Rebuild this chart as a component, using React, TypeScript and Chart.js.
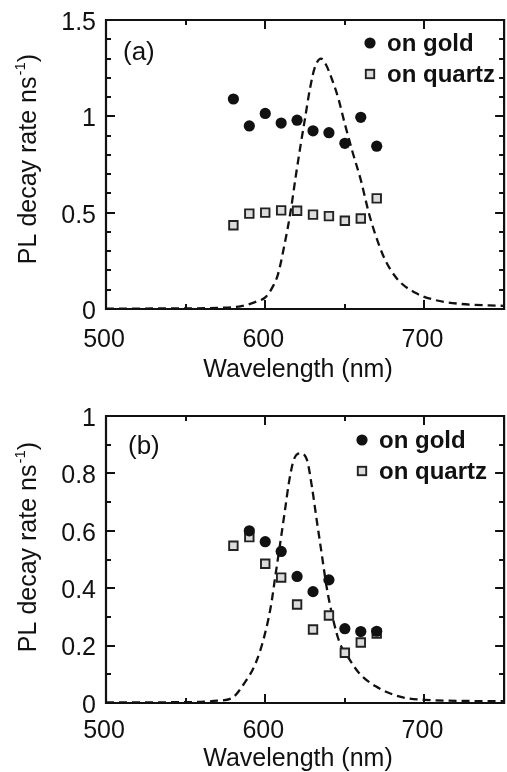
import React, { useEffect, useRef } from 'react';
import { Chart, registerables } from 'chart.js';

Chart.register(...registerables);

// ---------- Panel (a) data ----------
const wavelengthsA = [580, 590, 600, 610, 620, 630, 640, 650, 660, 670];
const goldA = [1.09, 0.95, 1.015, 0.965, 0.98, 0.925, 0.915, 0.86, 0.995, 0.845];
const quartzA = [0.435, 0.495, 0.5, 0.512, 0.51, 0.49, 0.482, 0.458, 0.47, 0.574];
const spectrumXA = [500, 540, 570, 585, 595, 600, 605, 608, 612, 616, 619, 622, 625, 628, 631, 635, 638, 642, 646, 650, 655, 660, 665, 669, 675, 683, 694, 706, 722, 750];
const spectrumYA = [0.002, 0.003, 0.006, 0.015, 0.04, 0.06, 0.12, 0.18, 0.33, 0.51, 0.68, 0.84, 0.99, 1.14, 1.25, 1.3, 1.27, 1.19, 1.09, 0.96, 0.81, 0.67, 0.5, 0.39, 0.26, 0.155, 0.085, 0.048, 0.027, 0.016];
const yTickLabelsA = ['0', '0.5', '1', '1.5'];
const yTickValuesA = [0, 0.5, 1, 1.5];

// ---------- Panel (b) data ----------
const wavelengthsGoldB = [590, 600, 610, 620, 630, 640, 650, 660, 670];
const goldB = [0.6, 0.562, 0.528, 0.441, 0.388, 0.429, 0.259, 0.249, 0.25];
const wavelengthsQuartzB = [580, 590, 600, 610, 620, 630, 640, 650, 660, 670];
const quartzB = [0.548, 0.578, 0.485, 0.437, 0.343, 0.256, 0.305, 0.175, 0.211, 0.242];
const spectrumXB = [500, 550, 570, 579, 587, 594, 599.4, 603.5, 606.6, 609.7, 612.7, 614.8, 617.9, 622, 626.2, 629.3, 632.3, 635.4, 638.5, 642.7, 646.8, 653, 659, 669.4, 684, 700, 750];
const spectrumYB = [0.002, 0.003, 0.008, 0.017, 0.07, 0.139, 0.232, 0.336, 0.452, 0.568, 0.684, 0.766, 0.847, 0.87, 0.847, 0.754, 0.638, 0.522, 0.406, 0.29, 0.209, 0.151, 0.104, 0.058, 0.023, 0.011, 0.006];
const yTickLabelsB = ['0', '0.2', '0.4', '0.6', '0.8', '1'];
const yTickValuesB = [0, 0.2, 0.4, 0.6, 0.8, 1];

// ---------- shared axis ----------
const xTickLabels = ['500', '600', '700'];
const xTickValues = [500, 600, 700];
const xMinorValues = [550, 650, 750];
const xTitle = 'Wavelength (nm)';
const yTitleMain = 'PL decay rate ns';
const yTitleSup = '-1';
const yTitleEnd = ')';
const legendGold = 'on gold';
const legendQuartz = 'on quartz';

const FONT = '"Liberation Sans", Arial, Helvetica, sans-serif';
const INK = '#111';

type PanelCfg = {
  label: string;
  yMax: number;
  yTickValues: number[];
  yTickLabels: string[];
  padTop: number;
  padBottom: number;
  xLabelDy: number;
  xTitleDy: number;
  yTitleCenter: number;
  legendX: number;
  legendY: number;
  panelLabelX: number;
  panelLabelY: number;
  goldX: number[];
  goldY: number[];
  quartzX: number[];
  quartzY: number[];
  specX: number[];
  specY: number[];
};

function makeDecor(cfg: PanelCfg) {
  return {
    id: 'decor' + cfg.label,
    afterDraw(chart: any) {
      const ctx = chart.ctx as CanvasRenderingContext2D;
      const { left, right, top, bottom } = chart.chartArea;
      const xs = chart.scales.x;
      const ys = chart.scales.y;
      ctx.save();
      ctx.strokeStyle = INK;
      ctx.fillStyle = INK;
      ctx.lineWidth = 2.2;
      // frame
      ctx.beginPath();
      ctx.rect(left, top, right - left, bottom - top);
      ctx.stroke();
      ctx.lineWidth = 2;
      // x ticks (inward, top and bottom)
      const allX = [...xTickValues, ...xMinorValues];
      for (const v of allX) {
        const px = Math.round(xs.getPixelForValue(v));
        const len = xTickValues.includes(v) ? 9 : 5;
        ctx.beginPath();
        ctx.moveTo(px, bottom);
        ctx.lineTo(px, bottom - len);
        ctx.moveTo(px, top);
        ctx.lineTo(px, top + len);
        ctx.stroke();
      }
      // y ticks (every 0.1, inward, left and right)
      const n = Math.round(cfg.yMax / 0.1);
      for (let i = 0; i <= n; i++) {
        const v = i * 0.1;
        const py = Math.round(ys.getPixelForValue(v));
        const major = cfg.yTickValues.some((t) => Math.abs(t - v) < 1e-6);
        const len = major ? 9 : 5;
        ctx.beginPath();
        ctx.moveTo(left, py);
        ctx.lineTo(left + len, py);
        ctx.moveTo(right, py);
        ctx.lineTo(right - len, py);
        ctx.stroke();
      }
      // y tick labels
      ctx.font = `25px ${FONT}`;
      ctx.textAlign = 'right';
      ctx.textBaseline = 'middle';
      cfg.yTickValues.forEach((v, i) => {
        ctx.fillText(cfg.yTickLabels[i], left - 10, ys.getPixelForValue(v) + 3);
      });
      // x tick labels
      ctx.textAlign = 'center';
      xTickValues.forEach((v, i) => {
        ctx.fillText(xTickLabels[i], xs.getPixelForValue(v) - 2, bottom + cfg.xLabelDy);
      });
      // x title
      ctx.fillText(xTitle, 298, bottom + cfg.xTitleDy);
      // y title (rotated, with superscript)
      ctx.save();
      ctx.translate(29, cfg.yTitleCenter);
      ctx.rotate(-Math.PI / 2);
      ctx.textAlign = 'left';
      ctx.textBaseline = 'middle';
      const mainFont = `25px ${FONT}`;
      const supFont = `15px ${FONT}`;
      ctx.font = mainFont;
      const w1 = ctx.measureText(yTitleMain).width;
      const w3 = ctx.measureText(yTitleEnd).width;
      ctx.font = supFont;
      const w2 = ctx.measureText(yTitleSup).width;
      let sx = -(w1 + w2 + w3 + 1) / 2;
      ctx.font = mainFont;
      ctx.fillText(yTitleMain, sx, 0);
      sx += w1 + 1;
      ctx.font = supFont;
      ctx.fillText(yTitleSup, sx, -8);
      sx += w2;
      ctx.font = mainFont;
      ctx.fillText(yTitleEnd, sx, 0);
      ctx.restore();
      // panel label
      ctx.font = `26px ${FONT}`;
      ctx.textAlign = 'left';
      ctx.textBaseline = 'middle';
      ctx.fillText(cfg.label, cfg.panelLabelX, cfg.panelLabelY);
      // legend
      ctx.font = `bold 24px ${FONT}`;
      ctx.beginPath();
      ctx.arc(cfg.legendX, cfg.legendY, 5.6, 0, Math.PI * 2);
      ctx.fill();
      ctx.fillText(legendGold, cfg.legendX + 17, cfg.legendY + 1);
      const qy = cfg.legendY + 31;
      ctx.fillStyle = '#dcdcdc';
      ctx.fillRect(cfg.legendX - 4.2, qy - 4.2, 8.4, 8.4);
      ctx.strokeStyle = '#222';
      ctx.lineWidth = 1.9;
      ctx.strokeRect(cfg.legendX - 4.2, qy - 4.2, 8.4, 8.4);
      ctx.fillStyle = INK;
      ctx.fillText(legendQuartz, cfg.legendX + 17, qy + 1);
      ctx.restore();
    },
  };
}

function Panel({ cfg, height }: { cfg: PanelCfg; height: number }) {
  const ref = useRef<HTMLCanvasElement>(null);
  useEffect(() => {
    if (!ref.current) return;
    const chart = new Chart(ref.current, {
      type: 'scatter',
      data: {
        datasets: [
          {
            label: 'spectrum',
            type: 'line',
            data: cfg.specX.map((x, i) => ({ x, y: cfg.specY[i] })),
            borderColor: INK,
            borderWidth: 2.3,
            borderDash: [8, 5],
            pointRadius: 0,
            fill: false,
            cubicInterpolationMode: 'monotone',
            order: 3,
          } as any,
          {
            label: legendQuartz,
            data: cfg.quartzX.map((x, i) => ({ x, y: cfg.quartzY[i] })),
            pointStyle: 'rect',
            pointRadius: 6,
            backgroundColor: '#dcdcdc',
            borderColor: '#222',
            borderWidth: 1.9,
            order: 2,
          },
          {
            label: legendGold,
            data: cfg.goldX.map((x, i) => ({ x, y: cfg.goldY[i] })),
            pointStyle: 'circle',
            pointRadius: 5.6,
            backgroundColor: INK,
            borderColor: INK,
            borderWidth: 0,
            order: 1,
          },
        ],
      },
      options: {
        responsive: false,
        animation: false,
        events: [],
        layout: { padding: { left: 106, right: 2, top: cfg.padTop, bottom: cfg.padBottom } },
        plugins: { legend: { display: false }, tooltip: { enabled: false } },
        scales: {
          x: { type: 'linear', min: 500, max: 750, display: false },
          y: { type: 'linear', min: 0, max: cfg.yMax, display: false },
        },
      },
      plugins: [makeDecor(cfg)],
    });
    return () => chart.destroy();
  }, []);
  return <canvas ref={ref} width={512} height={height} style={{ display: 'block', width: 512, height }} />;
}

const cfgA: PanelCfg = {
  label: '(a)',
  yMax: 1.5,
  yTickValues: yTickValuesA,
  yTickLabels: yTickLabelsA,
  padTop: 20,
  padBottom: 77,
  xLabelDy: 31,
  xTitleDy: 61,
  yTitleCenter: 159,
  legendX: 370,
  legendY: 43,
  panelLabelX: 123,
  panelLabelY: 53,
  goldX: wavelengthsA,
  goldY: goldA,
  quartzX: wavelengthsA,
  quartzY: quartzA,
  specX: spectrumXA,
  specY: spectrumYA,
};

const cfgB: PanelCfg = {
  label: '(b)',
  yMax: 1,
  yTickValues: yTickValuesB,
  yTickLabels: yTickLabelsB,
  padTop: 30,
  padBottom: 69,
  xLabelDy: 28,
  xTitleDy: 56,
  yTitleCenter: 547 - 386,
  legendX: 362,
  legendY: 440 - 386,
  panelLabelX: 128,
  panelLabelY: 447 - 386,
  goldX: wavelengthsGoldB,
  goldY: goldB,
  quartzX: wavelengthsQuartzB,
  quartzY: quartzB,
  specX: spectrumXB,
  specY: spectrumYB,
};

export default function App() {
  return (
    <div style={{ position: 'fixed', left: 0, top: 0, width: 507, height: 772, overflow: 'hidden', background: '#fff' }}>
      <Panel cfg={cfgA} height={386} />
      <Panel cfg={cfgB} height={386} />
    </div>
  );
}
